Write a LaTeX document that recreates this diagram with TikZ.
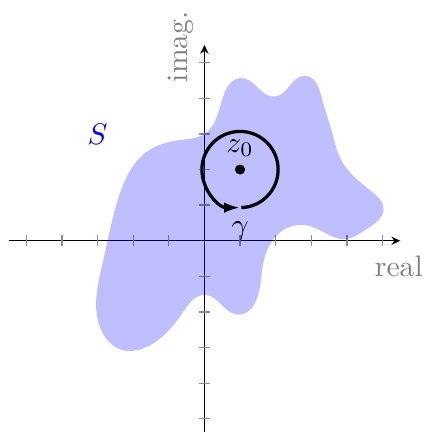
\documentclass[tikz,border=0pt]{standalone}
\usetikzlibrary{arrows.meta,hobby}
\begin{document}
\begin{tikzpicture}[x=12pt,y=12pt,
  axis/.style={line width=0.45pt, -{Stealth[length=3pt,width=2.8pt]}},
  tickmark/.style={black!45, line width=0.45pt},
  lbl/.style={text=black!50},
  loopline/.style={line width=1.1pt},
]
\useasboundingbox (-5.74,-5.37) rectangle (6.14,6.76);
\coordinate (xs) at (-5.5,0); \coordinate (xe) at (5.5,0);
\coordinate (ys) at (0,-5.6); \coordinate (ye) at (0,5.5);
\draw[axis] (xs) -- (xe);
\draw[axis] (ys) -- (ye);
\foreach \i in {-5,...,-1,1,2,...,5} {
  \draw[tickmark] (\i,-0.15) -- (\i,0.15);
  \draw[tickmark] (-0.15,\i) -- (0.15,\i);
}
\fill[blue, fill opacity=0.25, use Hobby shortcut, closed=true]
  (1.0,4.57) .. (1.99,4.05) .. (2.83,4.63) .. (3.30,4.0) .. (3.58,3.06)
  .. (3.85,2.25) .. (4.7,1.38) .. (5.03,0.91) .. (4.51,0.30) .. (4.0,0.05)
  .. (3.0,0.4) .. (2.3,0.35) .. (1.6,-1.0) .. (0.91,-2.07) .. (0.02,-1.52)
  .. (-0.59,-1.99) .. (-1.62,-2.98) .. (-2.3,-3.07) .. (-3.0,-2.2)
  .. (-2.84,-0.54) .. (-2.37,1.34) .. (-1.62,2.5) .. (-0.68,2.83)
  .. (0.0,3.0) .. (0.58,4.19);
\node[lbl, anchor=base] (real) at (5.46,-0.99) {real};
\node[lbl, rotate=90, anchor=base] (imag) at (-0.48,5.45) {imag.};
\node[text=blue, anchor=base] (S) at (-3,2.69) {$S$};
\node[circle, fill=black, inner sep=0pt, minimum size=3.4pt] (z0) at (1,2) {};
\node[anchor=base] (z0lbl) at (1.0,2.49) {$z_0$};
\draw[loopline] (z0.center) ++(272:1.07) arc (272:540:1.07);
\draw[loopline, -{Latex[length=5.4pt,width=3.6pt]}] (z0.center) ++(180:1.07) arc (180:270:1.07);
\node[anchor=base] (gam) at (1,0.17) {$\gamma$};
\end{tikzpicture}
\end{document}
